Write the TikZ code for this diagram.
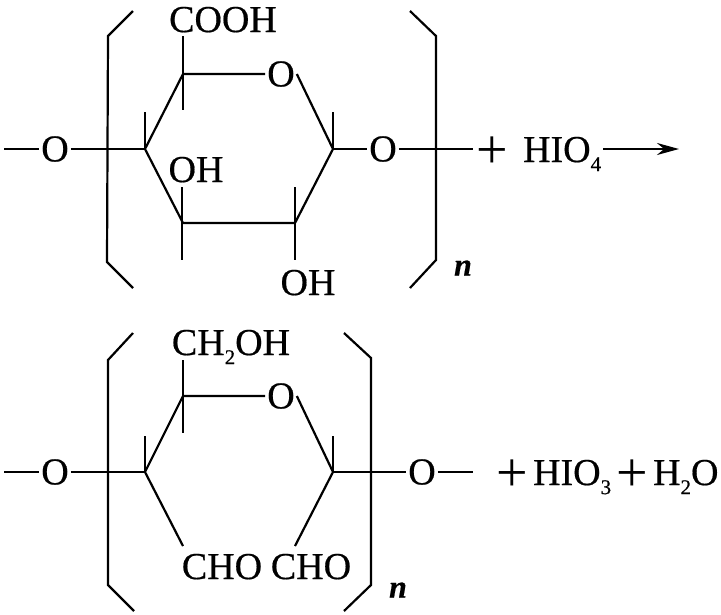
\documentclass[tikz,border=0pt]{standalone}
\usepackage{fontspec}
\setmainfont{Liberation Serif}[FakeBold=0.5]
\newfontfamily\plusfont{Liberation Serif}
\usetikzlibrary{arrows.meta,positioning}
\newcommand{\chemsub}[1]{\raisebox{-0.24em}{\fontsize{21}{21}\selectfont #1}}
\tikzset{
	atom/.style={inner sep=1pt,font=\fontsize{38}{40}\selectfont},
	group/.style={inner sep=1pt,anchor=base,font=\fontsize{38}{40}\selectfont},
	bigplus/.style={inner sep=0pt,font=\fontsize{56}{58}\selectfont\plusfont},
	repeatn/.style={inner sep=0pt,font=\fontsize{32}{34}\selectfont\bfseries\itshape}
}
\begin{document}
\begin{tikzpicture}[x=1pt,y=-1pt,line width=2.2pt]
	\useasboundingbox (0,0) rectangle (721,614);
	% upper chain
	\node [atom] (ringO) at (281,74) {O};
	\node [atom] (leftO) at (55,149) {O};
	\node [atom] (rightO) at (383,149) {O};
	\node [group] (cooh) at (223,32) {COOH};
	\node [group] (ohA) at (196,182) {OH};
	\node [group] (ohB) at (308,295) {OH};
	\node [bigplus] (plusA) at (492,153) {+};
	\node [group,anchor=base west] (hiofour) at (521,162) {HIO\chemsub{4}};
	\node [repeatn] (nA) at (463,268) {n};
	\coordinate (a1) at (183,74);
	\coordinate (a2) at (145,149);
	\coordinate (a3) at (183,223);
	\coordinate (a4) at (295,223);
	\coordinate (a5) at (333,149);
	\coordinate (endA) at (4,149);
	\coordinate (endB) at (473,149);
	\coordinate (arrowS) at (603,149);
	\coordinate (arrowA) at (679,149);
	\draw (ringO) -- (a1) -- (a2) -- (a3) -- (a4) -- (a5) -- (ringO.east);
	\draw (endA) -- (leftO);
	\draw (leftO) -- (a2);
	\draw (a5) -- (rightO);
	\draw (rightO) -- (endB);
	\draw [-{Stealth[length=22pt,width=12pt]}] (arrowS) -- (arrowA);
	\draw (183,36) -- (183,110);
	\draw (145,112) -- (a2);
	\draw (333,112) -- (a5);
	\draw (182,187) -- (182,260);
	\draw (295,187) -- (295,260);
	\draw (133,11) -- (108,36) -- (107,262) -- (133,288);
	\draw (410,11) -- (436,36) -- (436,260) -- (410,288);
	% lower chain
	\node [atom] (ringP) at (281,396) {O};
	\node [atom] (leftP) at (55,472) {O};
	\node [atom] (rightP) at (422,472) {O};
	\node [group] (chtwo) at (231,355) {CH\chemsub{2}OH};
	\node [group] (choA) at (222,579) {CHO};
	\node [group] (choB) at (311,579) {CHO};
	\node [bigplus] (plusB) at (512,476) {+};
	\node [group,anchor=base west] (hiothree) at (531,485) {HIO\chemsub{3}};
	\node [bigplus] (plusC) at (632,476) {+};
	\node [group,anchor=base west] (water) at (651,485) {H\chemsub{2}O};
	\node [repeatn] (nB) at (398,590) {n};
	\coordinate (b1) at (183,396);
	\coordinate (b2) at (145,472);
	\coordinate (b3) at (183,546);
	\coordinate (b4) at (295,546);
	\coordinate (b5) at (333,472);
	\coordinate (endC) at (4,472);
	\coordinate (endD) at (473,472);
	\draw (ringP) -- (b1) -- (b2) -- (b3);
	\draw (b4) -- (b5) -- (ringP.east);
	\draw (endC) -- (leftP);
	\draw (leftP) -- (b2);
	\draw (b5) -- (rightP);
	\draw (rightP) -- (endD);
	\draw (183,360) -- (183,433);
	\draw (145,436) -- (b2);
	\draw (333,436) -- (b5);
	\draw (133,333) -- (108,360) -- (108,585) -- (134,611);
	\draw (344,333) -- (371,358) -- (371,585) -- (344,611);
\end{tikzpicture}
\end{document}
